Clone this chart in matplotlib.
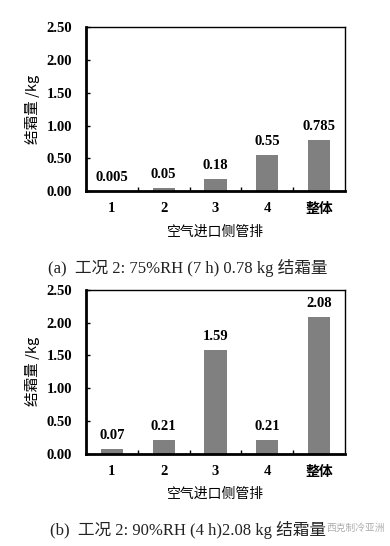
import numpy as np
import matplotlib.pyplot as plt

# data
categories = ['1', '2', '3', '4', '整体']
frost_a = [0.005, 0.05, 0.18, 0.55, 0.785]
labels_a = ['0.005', '0.05', '0.18', '0.55', '0.785']
frost_b = [0.07, 0.21, 1.59, 0.21, 2.08]
labels_b = ['0.07', '0.21', '1.59', '0.21', '2.08']
yticks = [0.0, 0.5, 1.0, 1.5, 2.0, 2.5]
caption_a = '(a)  工况 2: 75%RH (7 h) 0.78 kg 结霜量'
caption_b = '(b)  工况 2: 90%RH (4 h)2.08 kg 结霜量'

num_font = ['Liberation Serif', 'Noto Sans CJK SC']
cjk_font = ['Noto Sans CJK SC', 'DejaVu Sans']
cap_font = ['Liberation Serif', 'Noto Sans CJK SC']

fig = plt.figure(figsize=(3.9, 5.46), dpi=100)


def draw_panel(ax, values, texts):
    x = np.arange(len(categories))
    ax.bar(x, values, width=0.43, color='#808080', zorder=2)
    for xi, v, t in zip(x, values, texts):
        ax.annotate(t, (xi, v), xytext=(0, 5), textcoords='offset points',
                    ha='center', va='bottom', fontsize=10.5, fontweight='bold',
                    family=num_font)
    ax.set_xlim(-0.5, len(categories) - 0.5)
    ax.set_ylim(0, 2.5)
    ax.set_yticks(yticks)
    ax.set_yticklabels([f'{t:.2f}' for t in yticks], fontsize=10.5,
                       fontweight='bold', family=num_font)
    ax.tick_params(axis='y', direction='in', length=3, width=1, pad=10)
    # category labels without ticks, tick marks between categories
    ax.set_xticks(x)
    ax.set_xticklabels(categories, fontsize=10.5, fontweight='bold', family=num_font)
    for lab in ax.get_xticklabels()[-1:]:
        lab.set_family(cjk_font)
        lab.set_fontsize(10)
    ax.set_xticks(np.arange(0.5, len(categories) - 1, 1.0), minor=True)
    ax.tick_params(axis='x', which='major', length=0, pad=8)
    ax.tick_params(axis='x', which='minor', direction='in', length=3, width=1)
    ax.set_xlabel('空气进口侧管排', fontsize=10, family=cjk_font, labelpad=6)
    ax.set_ylabel('结霜量 /kg', fontsize=10.5, family=cjk_font, labelpad=5)
    ax.spines['left'].set_linewidth(2)
    ax.spines['bottom'].set_linewidth(2)
    ax.spines['top'].set_linewidth(1)
    ax.spines['right'].set_linewidth(1)


ax1 = fig.add_axes([0.2205, 0.650, 0.664, 0.300])
draw_panel(ax1, frost_a, labels_a)
fig.text(0.482, 1 - 268 / 546, caption_a, ha='center', va='center',
         fontsize=12, family=cap_font, color='#222222')

ax2 = fig.add_axes([0.2205, 0.169, 0.664, 0.300])
draw_panel(ax2, frost_b, labels_b)
fig.text(0.482, 1 - 530 / 546, caption_b, ha='center', va='center',
         fontsize=12, family=cap_font, color='#222222')

# watermark
fig.text(0.912, 1 - 528 / 546, '西克制冷亚洲', ha='center', va='center',
         fontsize=7, family=cjk_font, color='#999999', alpha=0.8)

fig.savefig('out.png', dpi=100)
